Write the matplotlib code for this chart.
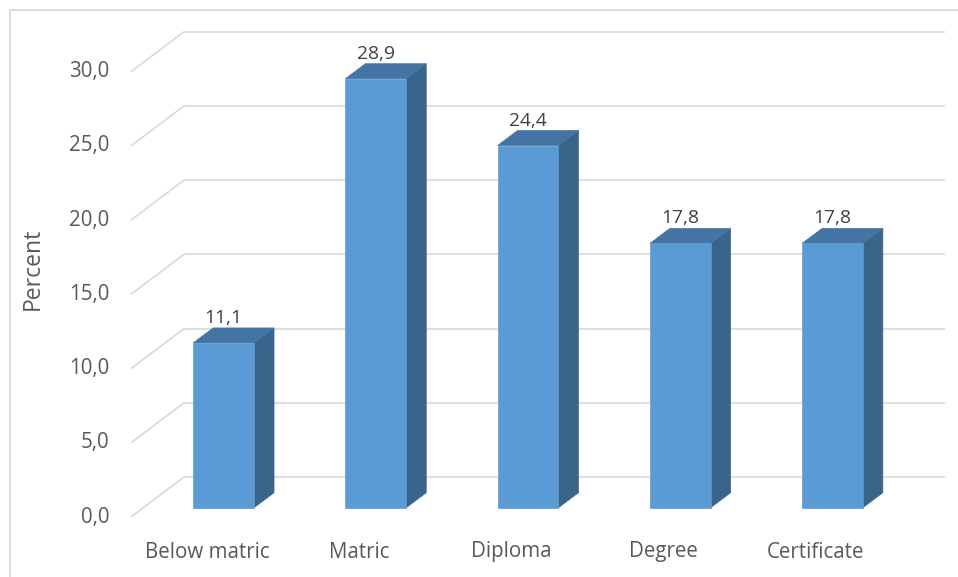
import matplotlib
matplotlib.use("Agg")
import matplotlib.pyplot as plt
from matplotlib.patches import Polygon, Rectangle

categories = ["Below matric", "Matric", "Diploma", "Degree", "Certificate"]
percent = [11.1, 28.9, 24.4, 17.8, 17.8]
value_labels = ["11,1", "28,9", "24,4", "17,8", "17,8"]
y_ticks = [0, 5, 10, 15, 20, 25, 30]
y_tick_labels = ["0,0", "5,0", "10,0", "15,0", "20,0", "25,0", "30,0"]

plt.rcParams["font.family"] = ["Open Sans", "DejaVu Sans"]
TEXT = "#595959"
GRID = "#D9D9D9"
FRONT = "#5B9BD5"
TOP = "#4374A4"
SIDE = "#3A6489"

W, H = 958, 577
fig = plt.figure(figsize=(W / 100, H / 100), dpi=100)
fig.patch.set_facecolor("white")

# front plane of the 3-D plot box
ax = fig.add_axes([131 / W, 60 / H, 761 / W, 445.3 / H])
ax.set_xlim(-0.5, len(categories) - 0.5)
ax.set_ylim(0, 30)
ax.axis("off")

# pixel -> data unit conversion for the perspective offsets
ux = (len(categories)) / ax.bbox.width
uy = 30 / ax.bbox.height

wall_dx, wall_dy = 53 * ux, 40 * uy        # depth of the back wall
bar_dx, bar_dy = 16.5 * ux, 9.3 * uy       # bar front face offset
side_dx, side_dy = 20 * ux, 15 * uy        # bar depth
bar_w = 0.40

x_left = -0.5
x_right = len(categories) - 0.5

# gridlines: diagonal on the floor/side wall, then horizontal on the back wall
for v, lab in zip(y_ticks, y_tick_labels):
    ax.plot([x_left, x_left + wall_dx], [v, v + wall_dy], color=GRID,
            lw=1.2, solid_capstyle="butt", clip_on=False, zorder=1)
    ax.plot([x_left + wall_dx, x_right + wall_dx], [v + wall_dy, v + wall_dy],
            color=GRID, lw=1.2, solid_capstyle="butt", clip_on=False, zorder=1)
    ax.text(x_left - 22 * ux, v, lab, ha="right", va="center",
            fontsize=14.8, color=TEXT)

# 3-D bars
for i, v in enumerate(percent):
    x0 = i - bar_w / 2 + bar_dx
    x1 = i + bar_w / 2 + bar_dx
    y0 = bar_dy
    y1 = v + bar_dy
    side = Polygon([(x1, y0), (x1 + side_dx, y0 + side_dy),
                    (x1 + side_dx, y1 + side_dy), (x1, y1)],
                   closed=True, facecolor=SIDE, edgecolor=SIDE, lw=0.5,
                   clip_on=False, zorder=3)
    top = Polygon([(x0, y1), (x1, y1), (x1 + side_dx, y1 + side_dy),
                   (x0 + side_dx, y1 + side_dy)],
                  closed=True, facecolor=TOP, edgecolor=TOP, lw=0.5,
                  clip_on=False, zorder=3)
    front = Rectangle((x0, y0), x1 - x0, y1 - y0, facecolor=FRONT,
                      edgecolor=FRONT, lw=0.5, clip_on=False, zorder=4)
    for p in (side, top, front):
        ax.add_patch(p)
    ax.text((x0 + x1) / 2, y1 + side_dy + 10 * uy, value_labels[i],
            ha="center", va="center", fontsize=13.8, color="#404040", zorder=5)

# category labels along the front edge
for i, c in enumerate(categories):
    ax.text(i, -35 * uy, c, ha="center", va="center", fontsize=14.8,
            color=TEXT)

# axis title
fig.text(33 / W, 1 - 269 / H, "Percent", rotation=90, ha="center",
         va="center", fontsize=16.5, color=TEXT)

# chart area border
fig.add_artist(Rectangle((10 / W, -0.02), 1.05, 1 - 10 / H + 0.02,
                         transform=fig.transFigure, fill=False,
                         edgecolor=GRID, lw=1.3))

fig.savefig("out.png", dpi=100)
